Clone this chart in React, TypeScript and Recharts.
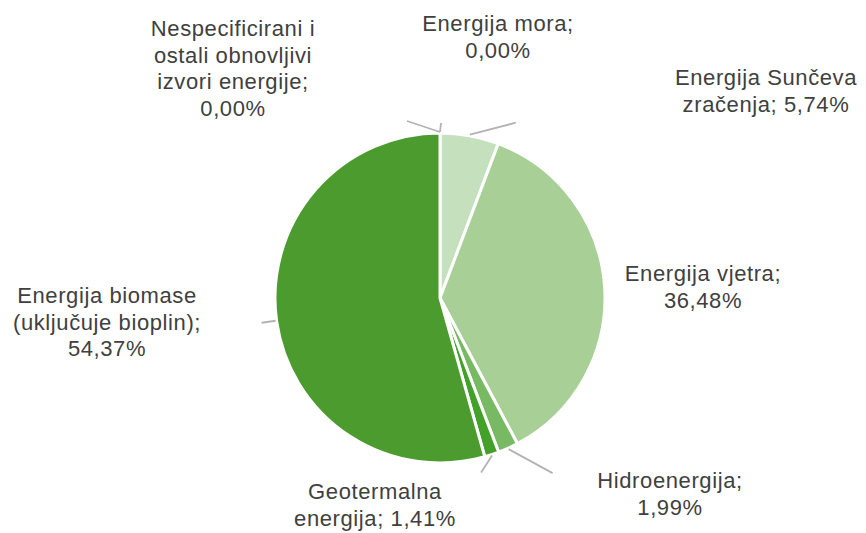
import { PieChart, Pie, Cell } from "recharts";

// shares of renewable energy sources (%)
const categories = [
  "Energija mora",
  "Energija Sunčeva zračenja",
  "Energija vjetra",
  "Hidroenergija",
  "Geotermalna energija",
  "Energija biomase (uključuje bioplin)",
  "Nespecificirani i ostali obnovljivi izvori energije",
];
const shares = [0.0, 5.74, 36.48, 1.99, 1.41, 54.37, 0.0];

// label text split the way the original wraps it
const labelLines = [
  ["Energija mora;"],
  ["Energija Sunčeva", "zračenja;"],
  ["Energija vjetra;"],
  ["Hidroenergija;"],
  ["Geotermalna", "energija;"],
  ["Energija biomase", "(uključuje bioplin);"],
  ["Nespecificirani i", "ostali obnovljivi", "izvori energije;"],
];
const valueOnSameLine = [false, true, false, false, true, false, false];

const COLORS = ["#C5E0BC", "#C5E0BC", "#A8D096", "#78B964", "#43A12A", "#4C9B2E", "#4C9B2E"];

// label anchor (relative to pie centre) and leader line (relative to slice edge)
const LABEL_POS = [
  { x: 58, y: -267, lx: 1, ly: -9 },
  { x: 326, y: -213, lx: 46, ly: -12 },
  { x: 263, y: -17, lx: 0, ly: 0 },
  { x: 230, y: 190, lx: 44, ly: 24 },
  { x: -65, y: 201, lx: -11, ly: 17 },
  { x: -333, y: 5, lx: -14, ly: 2 },
  { x: -207, y: -262, lx: -33, ly: -11 },
];

const data = categories.map((name, i) => ({ name, value: shares[i] }));

const fmt = (v: number) => v.toFixed(2).replace(".", ",") + "%";

const renderLabel = (props: any) => {
  const { cx, cy, midAngle, outerRadius, index, value } = props;
  const pos = LABEL_POS[index];
  const RAD = Math.PI / 180;
  const sx = cx + (outerRadius + 1) * Math.cos(-midAngle * RAD);
  const sy = cy + (outerRadius + 1) * Math.sin(-midAngle * RAD);

  const lines = [...labelLines[index]];
  if (valueOnSameLine[index]) {
    lines[lines.length - 1] = lines[lines.length - 1] + " " + fmt(value);
  } else {
    lines.push(fmt(value));
  }

  return (
    <g key={"lbl" + index}>
      {(pos.lx !== 0 || pos.ly !== 0) && (
        <line
          x1={sx}
          y1={sy}
          x2={sx + pos.lx}
          y2={sy + pos.ly}
          stroke="#B3B3B3"
          strokeWidth={1.8}
        />
      )}
      <text
        x={cx + pos.x}
        y={cy + pos.y}
        textAnchor="middle"
        fill="#404040"
        fontSize={22}
        letterSpacing={0.6}
        fontFamily="'Liberation Sans', Arial, sans-serif"
      >
        {lines.map((l, i) => (
          <tspan key={i} x={cx + pos.x} dy={i === 0 ? 0 : 26.5}>
            {l}
          </tspan>
        ))}
      </text>
    </g>
  );
};

export default function App() {
  return (
    <div style={{ position: "absolute", left: 0, top: 0, width: 866, height: 533, background: "#fff" }}>
      <PieChart width={866} height={533} margin={{ top: 0, right: 0, bottom: 0, left: 0 }}>
        <Pie
          data={data}
          dataKey="value"
          nameKey="name"
          cx={440}
          cy={298}
          outerRadius={165}
          startAngle={90}
          endAngle={-270}
          stroke="#fff"
          strokeWidth={3}
          label={renderLabel}
          labelLine={false}
          isAnimationActive={false}
        >
          {data.map((d, i) => (
            <Cell key={d.name} fill={COLORS[i]} />
          ))}
        </Pie>
      </PieChart>
    </div>
  );
}
